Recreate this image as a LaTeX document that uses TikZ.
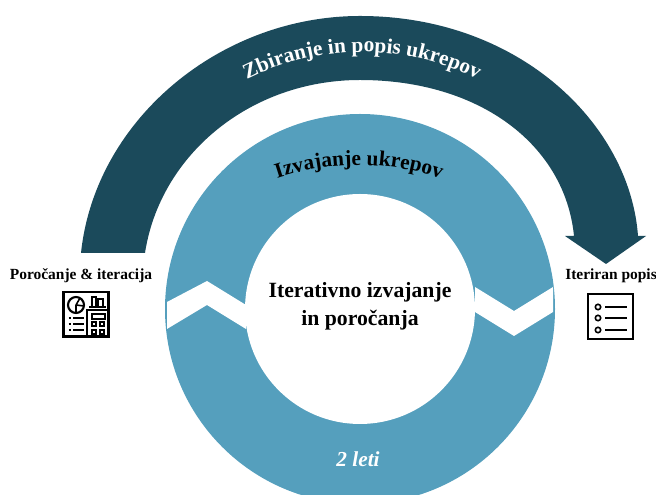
\documentclass[tikz,border=0pt]{standalone}
\usepackage{fontspec}
\setmainfont{Liberation Serif}
\usetikzlibrary{decorations.text}
\definecolor{darkteal}{HTML}{1B4A5B}
\definecolor{ringblue}{HTML}{559FBD}
\newcommand{\arcfont}{\fontsize{16pt}{18pt}\selectfont\bfseries}
\begin{document}
\begin{tikzpicture}[
		x=0.75pt, y=0.75pt,
		every node/.style={font=\bfseries, align=center, inner sep=0pt},
		icon/.style={draw=black, line width=1.2pt},
		iconthick/.style={draw=black, line width=1.6pt},
		gap/.style={fill=white, draw=none}
	]
  \useasboundingbox (0,0) rectangle (656,495);
  \clip (0,0) rectangle (656,495);
  % upper arrow
  \fill [darkteal] (81,242) .. controls (95,375) and (220,479) .. (360,479)
    .. controls (520,479) and (630,370) .. (638,259)
    -- (646,259) -- (606,231) -- (565,259) -- (574,259)
    .. controls (565,350) and (480,415) .. (360,415)
    .. controls (250,415) and (160,340) .. (145,242) -- cycle;
  % ring
  \fill [ringblue] (360,186) circle [radius=195];
  \fill [white] (360,186) circle [radius=115];
  \fill [gap] (167,193) -- (207,214) -- (246,190) -- (246,166) -- (207,190) -- (167,166) -- cycle;
  \fill [gap] (475,208) -- (514,184) -- (553,208) -- (553,183) -- (514,159) -- (475,183) -- cycle;
  % curved titles
  \path [decorate, decoration={text along path, text align=center,
    text={|\arcfont\color{white}|Zbiranje in popis ukrepov}}]
    (362,187) ++(122:256) arc [start angle=122, end angle=58, radius=256];
  \path [decorate, decoration={text along path, text align=center,
    text={|\arcfont\color{black}|Izvajanje ukrepov}}]
    (359,71) ++(115:259) arc [start angle=115, end angle=65, radius=259];
  % labels
  \node (centre) [font=\fontsize{16.3pt}{21pt}\selectfont\bfseries] at (360,189) {Iterativno izvajanje\\in poročanja};
  \node (years) [font=\fontsize{16pt}{18pt}\selectfont\bfseries\itshape, text=white] at (358,36) {2 leti};
  \node (report) [font=\fontsize{11.6pt}{13pt}\selectfont\bfseries] at (81,219) {Poročanje \& iteracija};
  \node (list) [font=\fontsize{11.6pt}{13pt}\selectfont\bfseries] at (611,219) {Iteriran popis};
  % report icon
  \draw [iconthick] (63.5,158.5) rectangle (108.5,203);
  \draw [iconthick] (76,190) circle [radius=8];
  \draw [icon] (76,190) -- (80,197) (76,190) -- (84,189) (76,190) -- (76,182);
  \draw [icon] (89,188) -- (106,188);
  \draw [icon] (92,188) |- (96,198) -- (96,188);
  \draw [icon] (98,188) |- (103,196) -- (103,188);
  \draw [iconthick] (87,158.5) rectangle (108.5,185);
  \draw [icon] (92,176) rectangle (105,181);
  \draw [icon] (92,169) rectangle (96,173);
  \draw [icon] (100,169) rectangle (104,173);
  \draw [icon] (92,161) rectangle (96,165);
  \draw [icon] (100,161) rectangle (104,165);
  \foreach \y in {165,171,177} {
    \draw [icon] (68.5,\y) -- (70.5,\y);
    \draw [icon] (73,\y) -- (84,\y);
  }
  % list icon
  \draw [iconthick] (588,156) rectangle (633,201);
  \foreach \y in {165,177,188} {
    \draw [icon] (598,\y) circle [radius=2.7];
    \draw [icon] (605,\y) -- (627,\y);
  }
\end{tikzpicture}
\end{document}
